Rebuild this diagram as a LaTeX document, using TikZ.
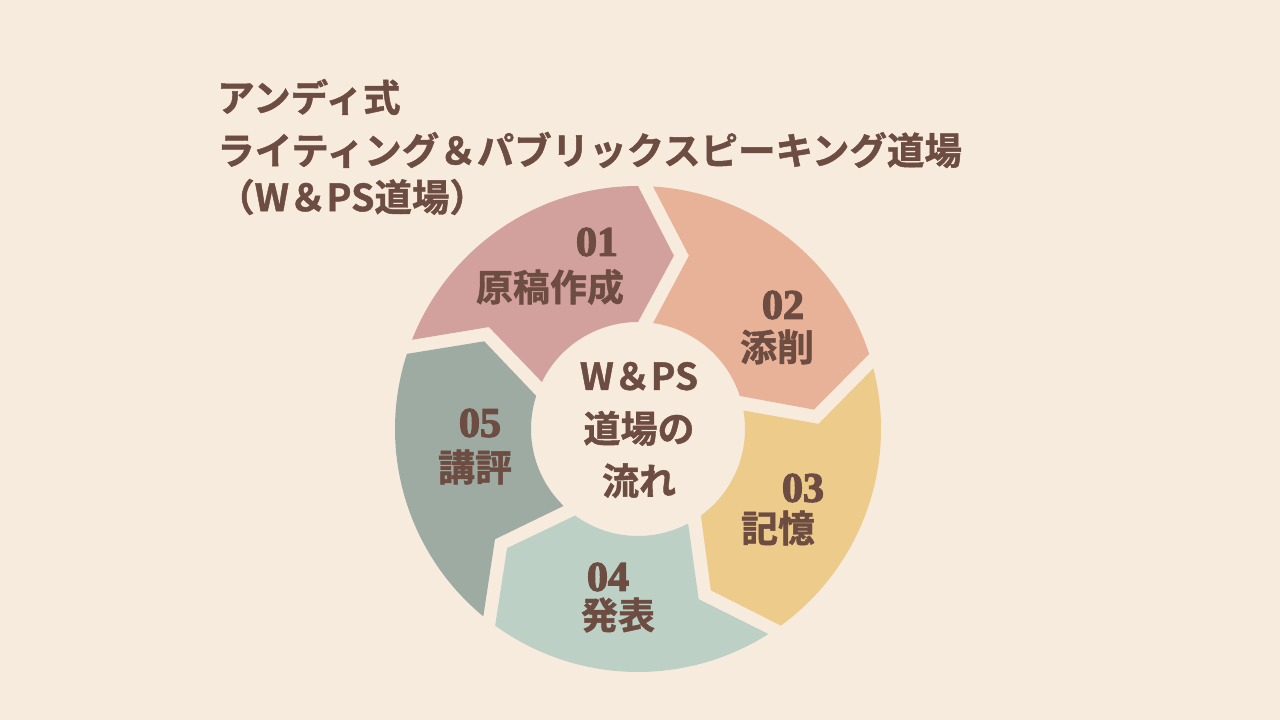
\documentclass[tikz,border=0pt]{standalone}
\usepackage{fontspec}
\usepackage{tikz}
\newfontfamily\jpfont{Noto Sans CJK JP}[BoldFont={Noto Sans CJK JP Bold}, BoldFeatures={FakeBold=1.2}]
\newfontfamily\numfont{Liberation Serif}[BoldFeatures={FakeBold=3}]
\definecolor{bgcream}{HTML}{F7EBDE}
\definecolor{inkbrown}{HTML}{6D4C42}
\definecolor{rose}{HTML}{D3A19D}
\definecolor{peach}{HTML}{E8B298}
\definecolor{honey}{HTML}{EDCB8B}
\definecolor{mint}{HTML}{BDD0C5}
\definecolor{sage}{HTML}{9EABA3}
\newcommand{\ringpiece}[2]{%
  \fill[#2] (#1-3.54:243) arc[start angle=#1-3.54, end angle=#1-72, radius=243]
    -- (#1-83.7:177) -- (#1-72:107)
    arc[start angle=#1-72, end angle=#1-8.06, radius=107]
    -- (#1-16.37:180.6) -- cycle;}
\tikzset{
  titleline/.style={anchor=west, inner sep=0pt, text=inkbrown,
    font=\jpfont\bfseries\fontsize{37.5}{45}\selectfont},
  stepnum/.style={inner sep=0pt, text=inkbrown,
    font=\numfont\bfseries\fontsize{42}{44}\selectfont},
  steplabel/.style={inner sep=0pt, text=inkbrown,
    font=\jpfont\bfseries\fontsize{37}{40}\selectfont},
}

\begin{document}
\begin{tikzpicture}[x=1pt, y=1pt]
    \useasboundingbox (0,0) rectangle (1280,720);
    \fill[bgcream] (0,0) rectangle (1280,720);

    % title
    \node (title1) at (217,623) [titleline] {アンディ式};
    \node (title2) at (217,570) [titleline] {ライティング＆パブリックスピーキング道場};
    \node (title3) at (217,523) [titleline] {（W＆PS道場）};

    % ring of five steps
    \begin{scope}[shift={(638,291)}]
        \ringpiece{162}{rose}
        \ringpiece{90}{peach}
        \ringpiece{18}{honey}
        \ringpiece{-54}{mint}
        \ringpiece{-126}{sage}
    \end{scope}

    \node (num1)  at (597,478) [stepnum]   {01};
    \node (step1) at (550,433) [steplabel] {原稿作成};
    \node (num2)  at (783,415) [stepnum]   {02};
    \node (step2) at (777,373) [steplabel] {添削};
    \node (num3)  at (803,232) [stepnum]   {03};
    \node (step3) at (778,192) [steplabel] {記憶};
    \node (num4)  at (608,143) [stepnum]   {04};
    \node (step4) at (618,105) [steplabel] {発表};
    \node (num5)  at (480,297) [stepnum]   {05};
    \node (step5) at (475,253) [steplabel] {講評};

    \node (hub) at (639,290) [inner sep=0pt, text=inkbrown, align=center,
        font=\jpfont\bfseries\fontsize{37}{52.5}\selectfont]
        {W＆PS\\道場の\\流れ};
\end{tikzpicture}
\end{document}
